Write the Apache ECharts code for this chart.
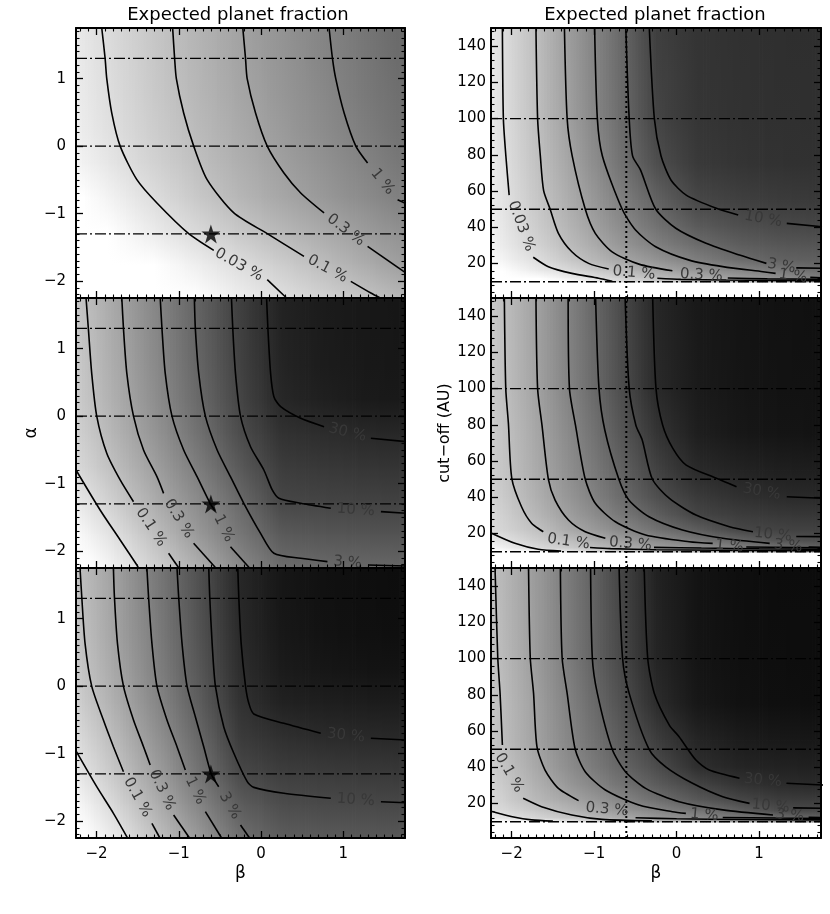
<!DOCTYPE html>
<html><head><meta charset="utf-8">
<script src="https://cdn.jsdelivr.net/npm/echarts@6/dist/echarts.min.js"></script>
<style>html,body{margin:0;padding:0;background:#fff}#c{width:830px;height:914px}</style>
</head><body><div id="c"></div>
<script>
// ---------------- DATA ----------------
var titleText = 'Expected planet fraction';
var betaTicks = [-2, -1, 0, 1];
var alphaTicks = [-2, -1, 0, 1];
var cutTicks = [20, 40, 60, 80, 100, 120, 140];
var betaRange = [-2.25, 1.75];
var alphaRange = [-2.25, 1.75];
var cutRange = [1, 150];
var starPoint = [-0.61, -1.3];
var dottedBeta = -0.61;
var dashAlpha = [1.3, 0, -1.3];
var dashCut = [100, 50, 10];

// field nodes (log10 of expected fraction in %)
var betaNodes = [-2.25, -1.75, -1.25, -0.75, -0.25, 0.25, 0.75, 1.25, 1.75];
var alphaNodes = [1.75, 1.25, 0.75, 0.25, -0.25, -0.75, -1.25, -1.75, -2.25];
var cutNodes = [150, 125, 100, 75, 55, 40, 30, 22, 16, 12, 10];

var fieldTL = [
  [-1.717, -1.41, -1.106, -0.818, -0.539, -0.287, -0.038, 0.203, 0.434],
  [-1.75, -1.436, -1.126, -0.835, -0.559, -0.308, -0.061, 0.181, 0.412],
  [-1.771, -1.462, -1.158, -0.868, -0.594, -0.344, -0.102, 0.136, 0.363],
  [-1.811, -1.511, -1.216, -0.927, -0.658, -0.402, -0.16, 0.08, 0.308],
  [-1.914, -1.601, -1.303, -1.006, -0.743, -0.486, -0.254, -0.023, 0.203],
  [-2.137, -1.807, -1.477, -1.15, -0.861, -0.605, -0.373, -0.153, 0.065],
  [-2.315, -2.015, -1.709, -1.423, -1.145, -0.889, -0.657, -0.428, -0.204],
  [-2.632, -2.352, -2.062, -1.785, -1.512, -1.243, -0.973, -0.708, -0.445],
  [-2.8, -2.55, -2.3, -2.05, -1.792, -1.552, -1.321, -1.092, -0.865]
];
var fieldML = [
  [-1.133, -0.585, -0.027, 0.548, 1.123, 1.6, 1.72, 1.77, 1.81],
  [-1.169, -0.614, -0.057, 0.529, 1.104, 1.59, 1.71, 1.77, 1.8],
  [-1.202, -0.646, -0.09, 0.495, 1.078, 1.57, 1.7, 1.76, 1.79],
  [-1.238, -0.696, -0.152, 0.43, 1.023, 1.52, 1.64, 1.73, 1.76],
  [-1.329, -0.799, -0.261, 0.302, 0.903, 1.344, 1.43, 1.5, 1.53],
  [-1.46, -0.958, -0.438, 0.105, 0.691, 1.169, 1.235, 1.28, 1.31],
  [-1.725, -1.21, -0.654, -0.125, 0.421, 1.0, 1.04, 1.066, 1.086],
  [-2.02, -1.523, -0.962, -0.362, 0.208, 0.672, 0.74, 0.771, 0.795],
  [-2.29, -1.79, -1.28, -0.738, -0.127, 0.36, 0.417, 0.444, 0.464]
];
var fieldBL = [
  [-1.06, -0.465, 0.18, 0.846, 1.52, 1.8, 1.89, 1.93, 1.95],
  [-1.084, -0.497, 0.151, 0.824, 1.5, 1.79, 1.88, 1.92, 1.94],
  [-1.124, -0.52, 0.109, 0.787, 1.477, 1.77, 1.86, 1.9, 1.92],
  [-1.19, -0.585, 0.052, 0.73, 1.42, 1.72, 1.8, 1.84, 1.86],
  [-1.31, -0.7, -0.059, 0.615, 1.34, 1.61, 1.66, 1.69, 1.71],
  [-1.5, -0.883, -0.235, 0.45, 1.19, 1.38, 1.457, 1.485, 1.5],
  [-1.69, -1.086, -0.435, 0.27, 0.976, 1.15, 1.2, 1.23, 1.246],
  [-1.99, -1.377, -0.705, -0.037, 0.63, 0.9, 0.95, 0.97, 0.987],
  [-2.22, -1.69, -1.026, -0.375, 0.31, 0.62, 0.675, 0.7, 0.71]
];
var fieldTR = [
  [-1.7, -1.058, -0.366, 0.308, 1.12, 1.3, 1.36, 1.39, 1.4],
  [-1.707, -1.07, -0.389, 0.285, 1.07, 1.29, 1.35, 1.38, 1.39],
  [-1.715, -1.082, -0.413, 0.261, 1.03, 1.28, 1.34, 1.37, 1.38],
  [-1.762, -1.132, -0.523, 0.155, 0.856, 1.21, 1.3, 1.34, 1.36],
  [-1.8, -1.202, -0.647, -0.061, 0.52, 0.98, 1.1, 1.18, 1.22],
  [-1.83, -1.3, -0.784, -0.248, 0.257, 0.64, 0.83, 0.944, 0.99],
  [-1.89, -1.4, -0.92, -0.433, 0.02, 0.357, 0.6, 0.72, 0.765],
  [-2.03, -1.58, -1.108, -0.675, -0.292, 0.059, 0.359, 0.54, 0.58],
  [-2.19, -1.81, -1.424, -1.04, -0.67, -0.366, -0.105, 0.12, 0.35],
  [-2.54, -2.15, -1.77, -1.39, -1.015, -0.73, -0.463, -0.233, 0.0],
  [-3.0, -2.5, -2.0, -1.55, -1.25, -1.05, -0.85, -0.7, -0.55]
];
var fieldMR = [
  [-1.2, -0.579, 0.093, 0.816, 1.52, 1.75, 1.84, 1.88, 1.9],
  [-1.21, -0.591, 0.078, 0.782, 1.5, 1.74, 1.83, 1.87, 1.89],
  [-1.222, -0.603, 0.065, 0.75, 1.477, 1.73, 1.82, 1.86, 1.88],
  [-1.264, -0.674, -0.051, 0.608, 1.289, 1.66, 1.78, 1.83, 1.85],
  [-1.275, -0.726, -0.145, 0.442, 1.06, 1.47, 1.58, 1.65, 1.68],
  [-1.363, -0.816, -0.272, 0.29, 0.84, 1.19, 1.36, 1.455, 1.48],
  [-1.45, -0.933, -0.425, 0.077, 0.57, 1.01, 1.15, 1.233, 1.263],
  [-1.48, -1.1, -0.618, -0.19, 0.267, 0.6, 0.98, 1.055, 1.08],
  [-1.74, -1.32, -0.97, -0.55, -0.185, 0.14, 0.43, 0.75, 0.85],
  [-2.0, -1.53, -1.2, -0.86, -0.5, -0.278, -0.044, 0.21, 0.477],
  [-2.6, -2.1, -1.7, -1.35, -1.05, -0.85, -0.65, -0.45, -0.25]
];
var fieldBR = [
  [-1.056, -0.462, 0.207, 0.92, 1.6, 1.85, 1.93, 1.96, 1.97],
  [-1.075, -0.476, 0.193, 0.891, 1.58, 1.84, 1.92, 1.95, 1.96],
  [-1.098, -0.49, 0.18, 0.866, 1.55, 1.83, 1.91, 1.94, 1.95],
  [-1.13, -0.552, 0.075, 0.715, 1.43, 1.78, 1.88, 1.92, 1.93],
  [-1.155, -0.58, 0.0, 0.55, 1.14, 1.55, 1.7, 1.76, 1.79],
  [-1.276, -0.693, -0.125, 0.382, 0.88, 1.38, 1.55, 1.6, 1.62],
  [-1.363, -0.825, -0.317, 0.16, 0.609, 1.0, 1.295, 1.43, 1.477],
  [-1.43, -0.95, -0.56, -0.136, 0.306, 0.685, 0.97, 1.154, 1.17],
  [-1.54, -1.21, -0.826, -0.425, -0.098, 0.22, 0.53, 0.9, 0.95],
  [-1.73, -1.436, -1.146, -0.75, -0.393, -0.153, 0.076, 0.276, 0.477],
  [-2.4, -2.0, -1.7, -1.35, -1.05, -0.85, -0.6, -0.4, -0.2]
];

// contour lines (null = gap for label)
var tl_003 = [[-1.937,1.75],[-1.896,1.3],[-1.876,1.0],[-1.815,0.49],[-1.713,0.0],[-1.51,-0.497],[-1.266,-0.843],[-0.88,-1.297],[-0.575,-1.544],null,[0.075,-1.978],[0.31,-2.25]];
var tl_01 = [[-1.075,1.75],[-1.051,1.3],[-1.03,1.0],[-0.941,0.49],[-0.819,0.0],[-0.656,-0.497],[-0.331,-0.99],[0.075,-1.297],[0.522,-1.633],null,[1.091,-2.003],[1.335,-2.176],[1.45,-2.25]];
var tl_03 = [[-0.222,1.75],[-0.189,1.3],[-0.169,1.0],[-0.067,0.49],[0.075,0.0],[0.278,-0.398],[0.482,-0.694],[0.766,-0.99],null,[1.295,-1.485],[1.75,-1.87]];
var tl_1 = [[0.827,1.75],[0.868,1.3],[0.908,1.0],[1.01,0.49],[1.152,0.0],[1.295,-0.25],null,[1.66,-0.793],[1.76,-0.85]];

var ml_003 = [[-2.25,-0.798],[-1.957,-1.39],[-1.713,-1.835],[-1.51,-2.206],[-1.49,-2.25]];
var ml_01 = [[-2.128,1.75],[-2.1,1.3],[-2.059,0.634],[-1.998,0.0],[-1.876,-0.55],[-1.713,-0.946],[-1.551,-1.268],null,[-1.124,-2.032],[-1.0,-2.25]];
var ml_03 = [[-1.693,1.75],[-1.673,1.3],[-1.632,0.634],[-1.551,0.0],[-1.429,-0.502],[-1.266,-0.897],[-1.185,-1.144],null,[-0.82,-1.884],[-0.55,-2.25]];
var ml_1 = [[-1.226,1.75],[-1.205,1.3],[-1.165,0.634],[-1.083,0.0],[-0.941,-0.502],[-0.778,-0.897],[-0.616,-1.3],[-0.56,-1.4],null,[-0.372,-1.934],[-0.14,-2.25]];
var ml_3 = [[-0.811,1.75],[-0.799,1.3],[-0.758,0.634],[-0.677,0.0],[-0.534,-0.502],[-0.372,-0.897],[-0.21,-1.291],[-0.006,-1.736],[0.156,-2.032],[0.482,-2.106],[0.807,-2.156],null,[1.3,-2.206],[1.76,-2.22]];
var ml_10 = [[-0.36,1.75],[-0.344,1.3],[-0.311,0.634],[-0.25,0.0],[-0.128,-0.453],[0.034,-0.798],[0.136,-1.094],[0.217,-1.217],[0.482,-1.291],[0.848,-1.365],null,[1.457,-1.415],[1.762,-1.44]];
var ml_30 = [[0.067,1.75],[0.083,1.3],[0.116,0.634],[0.156,0.288],[0.238,0.14],[0.482,-0.032],[0.766,-0.156],null,[1.335,-0.328],[1.762,-0.378]];

var bl_003 = [[-2.25,-0.96],[-1.998,-1.49],[-1.795,-1.884],[-1.632,-2.23],[-1.625,-2.25]];
var bl_01 = [[-2.201,1.75],[-2.18,1.325],[-2.14,0.634],[-2.059,0.0],[-1.917,-0.502],[-1.795,-0.897],[-1.673,-1.268],null,[-1.327,-2.032],[-1.23,-2.25]];
var bl_03 = [[-1.795,1.75],[-1.783,1.325],[-1.746,0.634],[-1.673,0.0],[-1.551,-0.502],[-1.429,-0.897],[-1.348,-1.169],null,[-1.063,-1.909],[-0.87,-2.25]];
var bl_1 = [[-1.388,1.75],[-1.368,1.325],[-1.327,0.634],[-1.266,0.0],[-1.144,-0.502],[-1.022,-0.897],[-0.921,-1.243],null,[-0.677,-1.86],[-0.48,-2.25]];
var bl_3 = [[-1.022,1.75],[-1.002,1.325],[-0.961,0.634],[-0.9,0.0],[-0.799,-0.453],[-0.697,-0.897],[-0.604,-1.306],[-0.515,-1.49],null,[-0.25,-2.057],[-0.14,-2.25]];
var bl_10 = [[-0.636,1.75],[-0.624,1.325],[-0.595,0.634],[-0.555,0.0],[-0.454,-0.601],[-0.331,-0.995],[-0.168,-1.416],[-0.088,-1.5],[0.278,-1.588],[0.848,-1.662],null,[1.457,-1.712],[1.762,-1.727]];
var bl_30 = [[-0.283,1.75],[-0.271,1.325],[-0.242,0.634],[-0.189,0.0],[-0.149,-0.254],[-0.088,-0.413],[0.278,-0.551],[0.726,-0.699],null,[1.335,-0.773],[1.762,-0.798]];

var tr_003 = [[-2.112,150],[-2.1,100],[-2.07,79.5],[-2.03,57.8],null,[-1.738,23.5],[-1.555,18.3],[-1.27,14.6],[-0.945,11.9],[-0.78,10.2]];
var tr_01 = [[-1.705,150],[-1.685,100],[-1.652,79.4],[-1.612,60.2],[-1.534,50.1],[-1.433,36.7],[-1.27,26.5],[-1.067,20.1],[-0.823,17],null,[-0.234,11.9],[0.05,11.3],[0.6,10.9],[1.76,10.6]];
var tr_03 = [[-1.36,150],[-1.327,100],[-1.266,79.4],[-1.108,50.1],[-0.986,36.7],[-0.782,26.5],[-0.457,19.7],[-0.051,16],null,[0.62,12.0],[1.1,11.6],[1.76,11.3]];
var tr_1 = [[-0.994,150],[-0.961,100],[-0.9,79.4],[-0.661,50.1],[-0.498,38.5],[-0.254,29.3],[0.152,21.9],[0.559,18.3],[1.046,15.5],[1.2,14.6],null,[1.62,12.4],[1.76,12.2]];
var tr_3 = [[-0.616,150],[-0.575,100],[-0.534,79.4],[-0.437,71.6],[-0.254,50.1],[-0.01,39.5],[0.356,31.2],[0.762,24.7],[1.088,20.1],null,[1.45,17.6],[1.76,17.4]];
var tr_10 = [[-0.331,150],[-0.27,100],[-0.189,79.4],[-0.067,66],[0.116,57.8],[0.482,50.5],[0.746,46.8],null,[1.335,42.2],[1.762,40.3]];

var mr_003 = [[-2.25,20.3],[-1.96,14.6],[-1.677,11.3],[-1.4,10.3]];
var mr_01 = [[-2.088,150],[-2.071,100],[-2.039,80.8],[-1.998,50.5],[-1.88,34.8],[-1.758,25.7],[-1.616,21],null,[-1.05,12.3],[-0.8,11.7],[-0.25,11.1],[0.5,10.8],[1.76,10.5]];
var mr_03 = [[-1.705,150],[-1.685,100],[-1.632,79.8],[-1.555,50.1],[-1.473,38.5],[-1.311,27.5],[-1.108,21],[-0.864,17.4],null,[-0.274,12.4],[0.3,12.0],[1.0,11.6],[1.76,11.3]];
var mr_1 = [[-1.315,150],[-1.299,100],[-1.226,79.8],[-1.108,50.1],[-0.986,36.7],[-0.742,26.5],[-0.376,19.2],[0.152,15.5],[0.437,14.6],null,[0.844,12.6],[1.76,12.2]];
var mr_3 = [[-0.982,150],[-0.941,100],[-0.87,77],[-0.701,50.1],[-0.579,38.5],[-0.335,29.3],[0.071,22],[0.559,17.4],[1.128,14.6],null,[1.6,12.5],[1.76,12.4]];
var mr_10 = [[-0.624,150],[-0.575,100],[-0.494,79.8],[-0.417,71.6],[-0.295,50.1],[-0.091,39.5],[0.234,30.2],[0.64,23.8],[0.925,21],null,[1.45,18.4],[1.762,18.3]];
var mr_30 = [[-0.29,150],[-0.25,100],[-0.169,79.8],[-0.046,67],[0.116,57.8],[0.482,50.5],[0.726,45.9],null,[1.335,40.3],[1.762,39.5]];

var br_003 = [[-2.25,15.8],[-1.96,12.4],[-1.758,11],[-1.5,10.3]];
var br_01 = [[-2.201,150],[-2.168,100.5],[-2.14,80.8],[-2.112,52.3],null,[-1.86,22.9],[-1.637,18.3],[-1.27,13.7],[-0.905,11.3],[-0.3,10.5]];
var br_03 = [[-1.795,150],[-1.774,100.5],[-1.734,80.8],[-1.693,51.4],[-1.595,38.5],[-1.433,28.4],[-1.189,21.6],null,[-0.498,12.2],[0.0,11.6],[0.8,11.2],[1.76,11.0]];
var br_1 = [[-1.409,150],[-1.388,100.5],[-1.327,80.8],[-1.23,50.1],[-1.108,37.6],[-0.864,27.5],[-0.457,19.2],[-0.051,15.5],[0.112,14.6],null,[0.559,12.3],[1.2,12.0],[1.76,11.8]];
var br_3 = [[-1.043,150],[-1.022,100.5],[-0.961,80.8],[-0.782,50.1],[-0.62,37.6],[-0.376,28.4],[0.03,21],[0.559,16.5],[1.168,13.7],null,[1.6,12.4],[1.76,12.3]];
var br_10 = [[-0.697,150],[-0.656,100.5],[-0.575,80.8],[-0.335,50.1],[-0.132,40.3],[0.193,31.2],[0.559,23.8],[0.884,20.1],null,[1.412,17.6],[1.76,17.4]];
var br_30 = [[-0.393,150],[-0.351,100.5],[-0.27,80.8],[-0.087,63.2],[0.03,56.9],[0.234,44],[0.396,38.5],[0.762,34],null,[1.331,31.2],[1.78,30.2]];

// contour labels: [beta, y, text, angle(deg, clockwise)]
var labelsTL = [[-0.27,-1.76,'0.03 %',29],[0.807,-1.82,'0.1 %',28],[1.03,-1.243,'0.3 %',37],[1.478,-0.527,'1 %',51]];
var labelsML = [[-1.339,-1.647,'0.1 %',56],[-1.0,-1.52,'0.3 %',58],[-0.454,-1.662,'1 %',64],[1.051,-2.171,'3 %',5],[1.152,-1.391,'10 %',4],[1.051,-0.245,'30 %',14]];
var labelsBL = [[-1.502,-1.647,'0.1 %',61],[-1.205,-1.539,'0.3 %',65],[-0.799,-1.55,'1 %',64],[-0.38,-1.771,'3 %',60],[1.152,-1.687,'10 %',4],[1.03,-0.734,'30 %',6]];
var labelsTR = [[-1.884,40.7,'0.03 %',70],[-0.518,14.8,'0.1 %',5],[0.3,13.6,'0.3 %',3],[1.41,13.0,'1 %',8],[1.27,18.6,'3 %',10],[1.05,44.6,'10 %',10]];
var labelsMR = [[-1.311,15.5,'0.1 %',8],[-0.559,14.2,'0.3 %',5],[0.64,13.1,'1 %',6],[1.351,13.1,'3 %',6],[1.168,19.3,'10 %',6],[1.03,43.1,'30 %',10]];
var labelsBR = [[-2.03,37,'0.1 %',60],[-0.844,16.7,'0.3 %',5],[0.335,13.6,'1 %',5],[1.372,13.4,'3 %',6],[1.14,18.6,'10 %',5],[1.046,32.7,'30 %',5]];

// ---------------- RENDERING ----------------
var FONT = '"DejaVu Sans", sans-serif';
function gray(L) {
  var v = Math.round(130 - 60 * L);
  v = Math.max(12, Math.min(255, v));
  return 'rgb(' + v + ',' + v + ',' + v + ')';
}
function fmt(v) { return (v < 0 ? '\u2212' : '') + Math.abs(v); }
function minorList(lo, hi, step, majorStep) {
  var out = [];
  for (var k = Math.ceil(lo / step - 1e-9); k * step <= hi + 1e-9; k++) {
    var v = Math.round(k * step * 1000) / 1000;
    if (Math.abs(v / majorStep - Math.round(v / majorStep)) > 1e-6) out.push(v);
  }
  return out;
}
var betaMinor = minorList(-2.25, 1.75, 0.1, 1);
var alphaMinor = minorList(-2.25, 1.75, 0.1, 1);
var cutMinor = minorList(1, 150, 4, 20);

var grids = [], xAxes = [], yAxes = [], series = [];
var panels = [
  {left: 76, top: 28, w: 329, right: false, bottom: false, field: fieldTL, lines: [tl_003, tl_01, tl_03, tl_1], labels: labelsTL},
  {left: 76, top: 298, w: 329, right: false, bottom: false, field: fieldML, lines: [ml_003, ml_01, ml_03, ml_1, ml_3, ml_10, ml_30], labels: labelsML, yname: '\u03b1'},
  {left: 76, top: 568, w: 329, right: false, bottom: true, field: fieldBL, lines: [bl_003, bl_01, bl_03, bl_1, bl_3, bl_10, bl_30], labels: labelsBL},
  {left: 491, top: 28, w: 330, right: true, bottom: false, field: fieldTR, lines: [tr_003, tr_01, tr_03, tr_1, tr_3, tr_10], labels: labelsTR},
  {left: 491, top: 298, w: 330, right: true, bottom: false, field: fieldMR, lines: [mr_003, mr_01, mr_03, mr_1, mr_3, mr_10, mr_30], labels: labelsMR, yname: 'cut\u2212off (AU)'},
  {left: 491, top: 568, w: 330, right: true, bottom: true, field: fieldBR, lines: [br_003, br_01, br_03, br_1, br_3, br_10, br_30], labels: labelsBR}
];

function axisSet(g, dim, pos, range, major, minor, showLab, name, nameGap, labMargin) {
  var base = {type: 'value', gridIndex: g, position: pos, min: range[0], max: range[1], z: 10,
    splitLine: {show: false}, minorTick: {show: false}, minorSplitLine: {show: false}};
  var a1 = Object.assign({}, base, {
    axisLine: {show: true, onZero: false, lineStyle: {color: '#000', width: 2}},
    axisTick: {show: true, inside: true, length: 7, customValues: major, lineStyle: {color: '#000', width: 1.3}},
    axisLabel: {show: showLab, customValues: major, formatter: fmt, margin: labMargin, color: '#000', fontSize: 15, fontFamily: FONT},
    name: name || '', nameLocation: 'middle', nameGap: nameGap || 20,
    nameRotate: dim === 'y' ? 90 : 0,
    nameTextStyle: {color: '#000', fontSize: dim === 'y' && name && name.length > 2 ? 16 : 17, fontFamily: FONT}
  });
  var a2 = Object.assign({}, base, {
    axisLine: {show: false, onZero: false},
    axisTick: {show: true, inside: true, length: 3.5, customValues: minor, lineStyle: {color: '#000', width: 1.1}},
    axisLabel: {show: false}
  });
  return [a1, a2];
}

panels.forEach(function (p, g) {
  grids.push({left: p.left, top: p.top, width: p.w, height: 270, containLabel: false});
  var yr = p.right ? cutRange : alphaRange;
  var ymaj = p.right ? cutTicks : alphaTicks;
  var ymin = p.right ? cutMinor : alphaMinor;
  xAxes = xAxes.concat(axisSet(g, 'x', 'bottom', betaRange, betaTicks, betaMinor, p.bottom, p.bottom ? '\u03b2' : '', 27, 9));
  xAxes = xAxes.concat(axisSet(g, 'x', 'top', betaRange, betaTicks, betaMinor, false));
  yAxes = yAxes.concat(axisSet(g, 'y', 'left', yr, ymaj, ymin, true, p.yname, p.right ? 38 : 36, p.right ? 5 : 10));
  yAxes = yAxes.concat(axisSet(g, 'y', 'right', yr, ymaj, ymin, false));

  var xi = 4 * g, yi = 4 * g;
  var ys = p.right ? cutNodes : alphaNodes;
  var xs = betaNodes;
  var V = p.field;
  var cells = [];
  for (var r = 0; r < ys.length - 1; r++)
    for (var c = 0; c < xs.length - 1; c++)
      cells.push([(xs[c] + xs[c + 1]) / 2, (ys[r] + ys[r + 1]) / 2, r, c]);
  series.push({
    type: 'custom', xAxisIndex: xi, yAxisIndex: yi, z: 1, silent: true, clip: true,
    encode: {x: 0, y: 1}, data: cells,
    renderItem: (function (xs, ys, V) {
      return function (params, api) {
        var r = api.value(2), c = api.value(3);
        var a = api.coord([xs[c], ys[r]]), b = api.coord([xs[c + 1], ys[r + 1]]);
        var x0 = Math.min(a[0], b[0]), x1 = Math.max(a[0], b[0]);
        var y0 = Math.min(a[1], b[1]), y1 = Math.max(a[1], b[1]);
        var t0 = V[r][c], t1 = V[r][c + 1], b0 = V[r + 1][c], b1 = V[r + 1][c + 1];
        var N = Math.max(2, Math.ceil((x1 - x0) / 3));
        var w = (x1 - x0) / N, ch = [];
        for (var k = 0; k < N; k++) {
          var t = (k + 0.5) / N;
          var top = t0 + (t1 - t0) * t, bot = b0 + (b1 - b0) * t;
          ch.push({type: 'rect', shape: {x: x0 + k * w, y: y0, width: w + 0.8, height: y1 - y0 + 0.8},
            style: {fill: new echarts.graphic.LinearGradient(0, 0, 0, 1, [{offset: 0, color: gray(top)}, {offset: 1, color: gray(bot)}])}});
        }
        return {type: 'group', children: ch};
      };
    })(xs, ys, V)
  });

  (p.right ? dashCut : dashAlpha).forEach(function (v) {
    series.push({type: 'line', xAxisIndex: xi, yAxisIndex: yi, data: [[betaRange[0], v], [betaRange[1], v]],
      symbol: 'none', silent: true, z: 4, lineStyle: {color: '#000', width: 1.4, type: [11, 3, 2, 3]}});
  });
  if (p.right) {
    series.push({type: 'line', xAxisIndex: xi, yAxisIndex: yi, data: [[dottedBeta, cutRange[0]], [dottedBeta, cutRange[1]]],
      symbol: 'none', silent: true, z: 4, lineStyle: {color: '#000', width: 2, type: [2, 3]}});
  }
  p.lines.forEach(function (pts) {
    var segs = [], cur = [];
    pts.forEach(function (q) { if (q === null) { if (cur.length) segs.push(cur); cur = []; } else cur.push(q); });
    if (cur.length) segs.push(cur);
    segs.forEach(function (seg) {
      series.push({type: 'line', xAxisIndex: xi, yAxisIndex: yi, data: seg, symbol: 'none', showSymbol: false,
        smooth: 0.25, silent: true, z: 5, clip: true, lineStyle: {color: '#000', width: 1.6}});
    });
  });
  (function (labs) {
    series.push({type: 'custom', xAxisIndex: xi, yAxisIndex: yi, z: 6, silent: true, clip: true,
      encode: {x: 0, y: 1}, data: labs.map(function (l) { return [l[0], l[1]]; }),
      renderItem: function (params, api) {
        var l = labs[params.dataIndex];
        var pt = api.coord([api.value(0), api.value(1)]);
        return {type: 'text', x: pt[0], y: pt[1], rotation: -l[3] * Math.PI / 180,
          style: {text: l[2], fill: '#383838', font: '15px ' + FONT, align: 'center', verticalAlign: 'middle'}};
      }});
  })(p.labels);
  if (!p.right) {
    series.push({type: 'scatter', xAxisIndex: xi, yAxisIndex: yi, data: [starPoint], z: 7, silent: true,
      symbol: 'path://M50,0 L61.2,34.5 L97.6,34.5 L68.2,55.9 L79.4,90.5 L50,69.1 L20.6,90.5 L31.8,55.9 L2.4,34.5 L38.8,34.5 Z',
      symbolSize: 19, itemStyle: {color: '#000'}});
  }
});

var chart = echarts.init(document.getElementById('c'), null, {renderer: 'canvas'});
chart.setOption({
  animation: false,
  backgroundColor: '#fff',
  grid: grids, xAxis: xAxes, yAxis: yAxes, series: series,
  graphic: [
    {type: 'text', x: 238, y: 15, style: {text: titleText, font: '18px ' + FONT, fill: '#000', align: 'center', verticalAlign: 'middle'}},
    {type: 'text', x: 655, y: 15, style: {text: titleText, font: '18px ' + FONT, fill: '#000', align: 'center', verticalAlign: 'middle'}}
  ]
});
</script></body></html>
